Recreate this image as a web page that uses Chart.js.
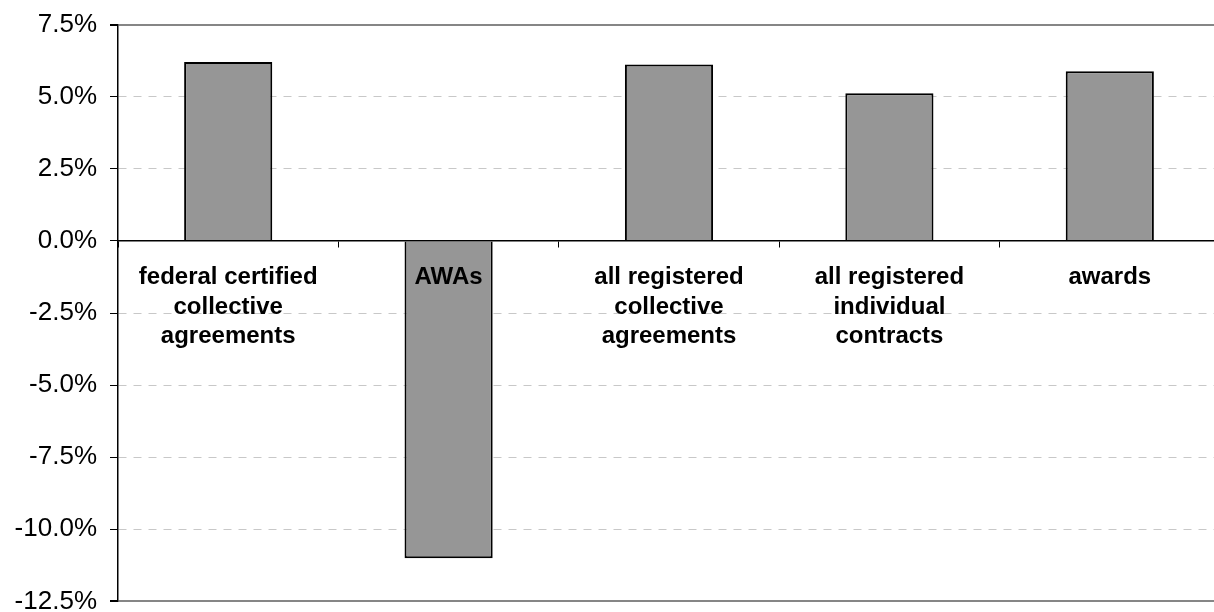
<!DOCTYPE html>
<html>
<head>
<meta charset="utf-8">
<script src="https://cdn.jsdelivr.net/npm/chart.js@4"></script>
<style>
  html, body { margin: 0; padding: 0; overflow: hidden; background: #fff; }
  #wrap { width: 1222px; height: 634px; margin-top: -4px; position: relative; }
</style>
</head>
<body>
<div id="wrap"><canvas id="chart"></canvas></div>
<script>
// categories (multi-line labels) and values, in percent
const categories = [
    ['federal certified', 'collective', 'agreements'],
    ['AWAs'],
    ['all registered', 'collective', 'agreements'],
    ['all registered', 'individual', 'contracts'],
    ['awards']
];
const changes = [6.2, -11.0, 6.12, 5.12, 5.88];

// value axis
const yMin = -12.5;
const yMax = 7.5;
const yStep = 2.5;

const isEdge = (c) => c.tick && (c.tick.value === yMin || c.tick.value === yMax);

const data = {
    labels: categories,
    datasets: [{
        data: changes,
        backgroundColor: '#969696',
        borderColor: '#000000',
        borderWidth: 2,
        barPercentage: 0.4,
        categoryPercentage: 1
    }]
};

const config = {
    type: 'bar',
    data,
    options: {
        responsive: true,
        maintainAspectRatio: false,
        animation: false,
        layout: { padding: { top: 20, bottom: 0, left: 0, right: 2 } },
        plugins: {
            legend: { display: false },
            tooltip: { enabled: false }
        },
        scales: {
            x: {
                position: { y: 0 },
                offset: true,
                grid: {
                    drawOnChartArea: false,
                    drawTicks: true,
                    tickLength: 6,
                    tickColor: '#000',
                    offset: true
                },
                border: { color: '#000', width: 1.5, z: 1 },
                ticks: {
                    z: 1,
                    color: '#000',
                    padding: 16,
                    maxRotation: 0,
                    autoSkip: false,
                    font: { family: 'Liberation Sans', size: 24, weight: 'bold', lineHeight: 1.23 }
                }
            },
            y: {
                min: yMin,
                max: yMax,
                afterFit(scale) { scale.width = 118; },
                ticks: {
                    stepSize: yStep,
                    color: '#000',
                    padding: 13,
                    font: { family: 'Liberation Sans', size: 26 },
                    callback: (v) => v.toFixed(1) + '%'
                },
                grid: {
                    color: (c) => isEdge(c) ? '#868686' : '#c8c8c8',
                    lineWidth: (c) => isEdge(c) ? 2 : 1,
                    tickColor: '#000',
                    tickLength: 8
                },
                border: {
                    color: '#000',
                    width: 1.5,
                    dash: (c) => isEdge(c) ? [] : [8, 7]
                }
            }
        }
    }
};

new Chart(document.getElementById('chart'), config);
</script>
</body>
</html>
